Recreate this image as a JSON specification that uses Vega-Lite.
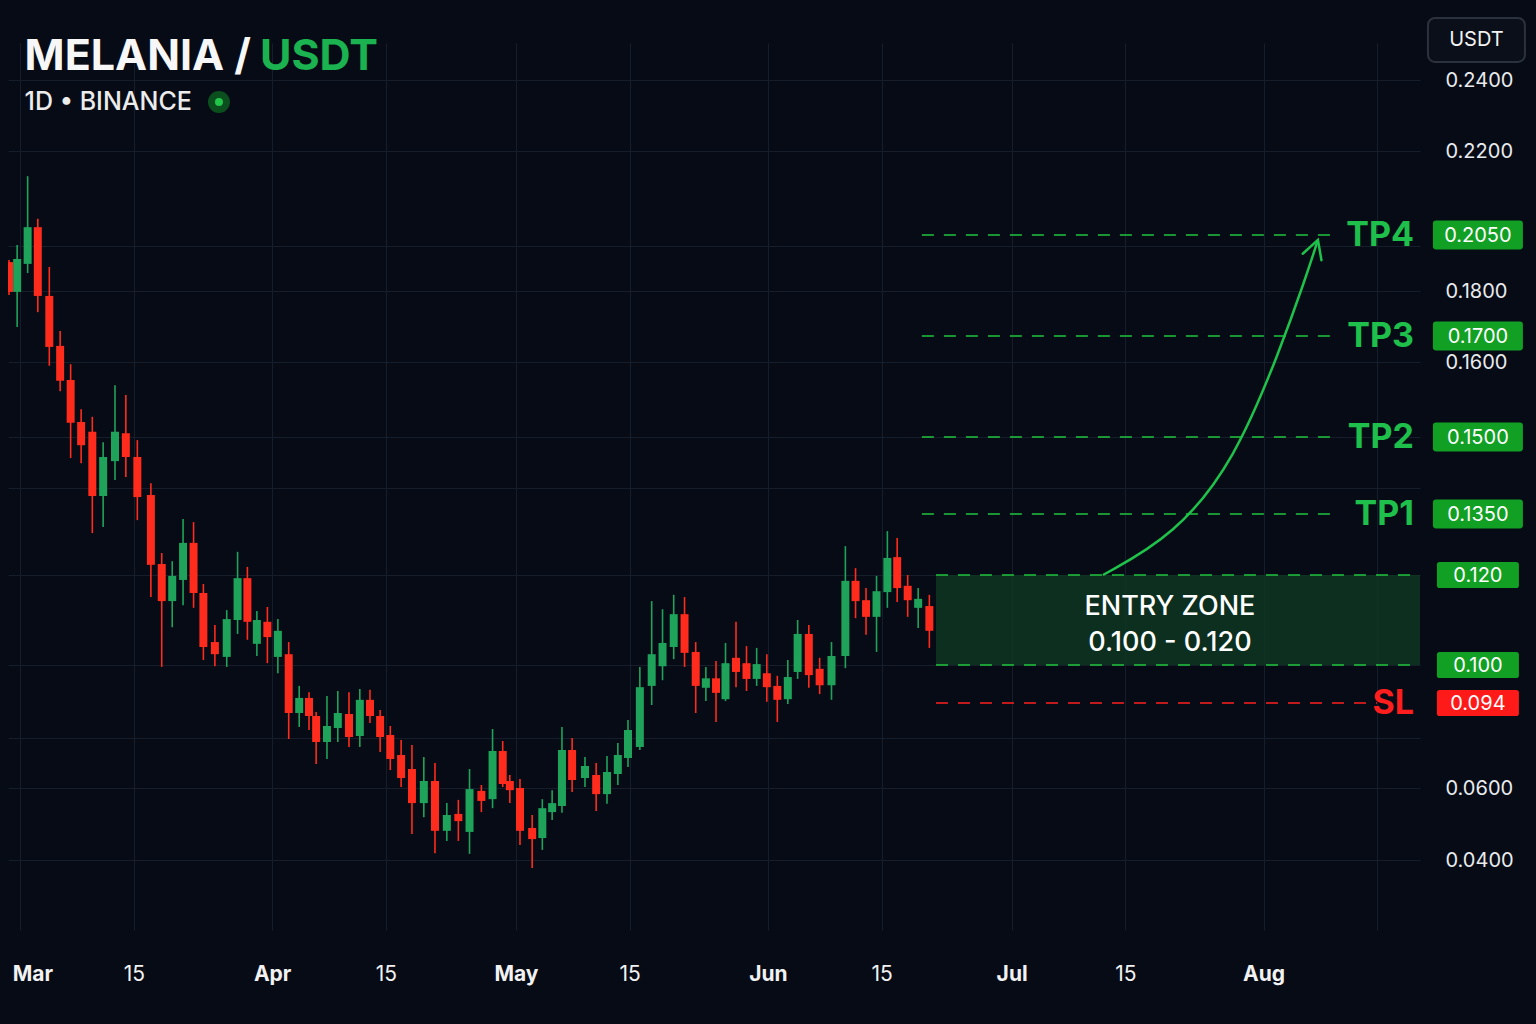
{
  "$schema": "https://vega.github.io/schema/vega-lite/v6.json",
  "width": 1412,
  "height": 939,
  "autosize": "none",
  "padding": {"left": 8, "top": 0, "right": 116, "bottom": 85},
  "background": "#060b16",
  "config": {"view": {"stroke": null}, "font": "Inter", "text": {"font": "Inter"}},
  "data": {"values": [{}]},
  "datasets": {
    "candles": [
      {"t": "2025-02-27T15:00:00Z", "open": 0.1929, "high": 0.1938, "low": 0.1791, "close": 0.1798},
      {"t": "2025-02-28T15:00:00Z", "open": 0.1798, "high": 0.2005, "low": 0.1720, "close": 0.1943},
      {"t": "2025-03-01T22:00:00Z", "open": 0.1921, "high": 0.2155, "low": 0.1880, "close": 0.2064},
      {"t": "2025-03-03T04:00:00Z", "open": 0.2064, "high": 0.2079, "low": 0.1753, "close": 0.1789},
      {"t": "2025-03-04T14:00:00Z", "open": 0.1789, "high": 0.1907, "low": 0.1595, "close": 0.1658},
      {"t": "2025-03-05T22:00:00Z", "open": 0.1662, "high": 0.1711, "low": 0.1561, "close": 0.1575},
      {"t": "2025-03-07T05:00:00Z", "open": 0.1576, "high": 0.1597, "low": 0.1459, "close": 0.1519},
      {"t": "2025-03-08T12:00:00Z", "open": 0.1520, "high": 0.1537, "low": 0.1449, "close": 0.1484},
      {"t": "2025-03-09T21:00:00Z", "open": 0.1507, "high": 0.1527, "low": 0.1303, "close": 0.1385},
      {"t": "2025-03-11T05:00:00Z", "open": 0.1385, "high": 0.1490, "low": 0.1318, "close": 0.1461},
      {"t": "2025-03-12T16:00:00Z", "open": 0.1453, "high": 0.1569, "low": 0.1416, "close": 0.1507},
      {"t": "2025-03-14T00:00:00Z", "open": 0.1505, "high": 0.1556, "low": 0.1422, "close": 0.1461},
      {"t": "2025-03-15T10:00:00Z", "open": 0.1461, "high": 0.1494, "low": 0.1335, "close": 0.1383},
      {"t": "2025-03-17T02:00:00Z", "open": 0.1387, "high": 0.1410, "low": 0.1151, "close": 0.1225},
      {"t": "2025-03-18T10:00:00Z", "open": 0.1227, "high": 0.1254, "low": 0.0997, "close": 0.1142},
      {"t": "2025-03-19T17:00:00Z", "open": 0.1142, "high": 0.1234, "low": 0.1084, "close": 0.1198},
      {"t": "2025-03-21T01:00:00Z", "open": 0.1189, "high": 0.1338, "low": 0.1133, "close": 0.1279},
      {"t": "2025-03-22T08:00:00Z", "open": 0.1279, "high": 0.1330, "low": 0.1127, "close": 0.1160},
      {"t": "2025-03-23T13:00:00Z", "open": 0.1160, "high": 0.1180, "low": 0.1011, "close": 0.1040},
      {"t": "2025-03-24T23:00:00Z", "open": 0.1051, "high": 0.1089, "low": 0.0998, "close": 0.1024},
      {"t": "2025-03-26T10:00:00Z", "open": 0.1018, "high": 0.1122, "low": 0.0997, "close": 0.1102},
      {"t": "2025-03-27T18:00:00Z", "open": 0.1100, "high": 0.1257, "low": 0.1069, "close": 0.1193},
      {"t": "2025-03-28T23:00:00Z", "open": 0.1193, "high": 0.1220, "low": 0.1056, "close": 0.1096},
      {"t": "2025-03-30T03:00:00Z", "open": 0.1047, "high": 0.1120, "low": 0.1020, "close": 0.1100},
      {"t": "2025-03-31T10:00:00Z", "open": 0.1096, "high": 0.1129, "low": 0.1004, "close": 0.1062},
      {"t": "2025-04-01T17:00:00Z", "open": 0.1018, "high": 0.1102, "low": 0.0987, "close": 0.1076},
      {"t": "2025-04-03T01:00:00Z", "open": 0.1024, "high": 0.1051, "low": 0.0796, "close": 0.0900},
      {"t": "2025-04-04T08:00:00Z", "open": 0.0900, "high": 0.0967, "low": 0.0844, "close": 0.0948},
      {"t": "2025-04-05T13:00:00Z", "open": 0.0948, "high": 0.0957, "low": 0.0832, "close": 0.0888},
      {"t": "2025-04-06T10:00:00Z", "open": 0.0888, "high": 0.0904, "low": 0.0696, "close": 0.0784},
      {"t": "2025-04-07T18:00:00Z", "open": 0.0784, "high": 0.0951, "low": 0.0716, "close": 0.0848},
      {"t": "2025-04-09T02:00:00Z", "open": 0.0840, "high": 0.0959, "low": 0.0784, "close": 0.0900},
      {"t": "2025-04-10T11:00:00Z", "open": 0.0896, "high": 0.0957, "low": 0.0764, "close": 0.0804},
      {"t": "2025-04-11T19:00:00Z", "open": 0.0808, "high": 0.0962, "low": 0.0764, "close": 0.0945},
      {"t": "2025-04-13T01:00:00Z", "open": 0.0945, "high": 0.0961, "low": 0.0860, "close": 0.0888},
      {"t": "2025-04-14T07:00:00Z", "open": 0.0888, "high": 0.0912, "low": 0.0744, "close": 0.0804},
      {"t": "2025-04-15T13:00:00Z", "open": 0.0812, "high": 0.0848, "low": 0.0672, "close": 0.0716},
      {"t": "2025-04-16T21:00:00Z", "open": 0.0732, "high": 0.0792, "low": 0.0604, "close": 0.0640},
      {"t": "2025-04-18T05:00:00Z", "open": 0.0676, "high": 0.0772, "low": 0.0472, "close": 0.0558},
      {"t": "2025-04-19T16:00:00Z", "open": 0.0558, "high": 0.0724, "low": 0.0519, "close": 0.0628},
      {"t": "2025-04-21T01:00:00Z", "open": 0.0628, "high": 0.0700, "low": 0.0419, "close": 0.0481},
      {"t": "2025-04-22T12:00:00Z", "open": 0.0481, "high": 0.0558, "low": 0.0453, "close": 0.0525},
      {"t": "2025-04-23T22:00:00Z", "open": 0.0528, "high": 0.0567, "low": 0.0453, "close": 0.0508},
      {"t": "2025-04-25T07:00:00Z", "open": 0.0478, "high": 0.0676, "low": 0.0417, "close": 0.0597},
      {"t": "2025-04-26T18:00:00Z", "open": 0.0592, "high": 0.0612, "low": 0.0533, "close": 0.0564},
      {"t": "2025-04-28T03:00:00Z", "open": 0.0569, "high": 0.0836, "low": 0.0544, "close": 0.0748},
      {"t": "2025-04-29T09:00:00Z", "open": 0.0748, "high": 0.0788, "low": 0.0604, "close": 0.0616},
      {"t": "2025-04-30T06:00:00Z", "open": 0.0628, "high": 0.0652, "low": 0.0558, "close": 0.0594},
      {"t": "2025-05-01T12:00:00Z", "open": 0.0600, "high": 0.0636, "low": 0.0442, "close": 0.0481},
      {"t": "2025-05-03T00:00:00Z", "open": 0.0489, "high": 0.0525, "low": 0.0378, "close": 0.0458},
      {"t": "2025-05-04T06:00:00Z", "open": 0.0461, "high": 0.0569, "low": 0.0428, "close": 0.0544},
      {"t": "2025-05-05T11:00:00Z", "open": 0.0533, "high": 0.0594, "low": 0.0511, "close": 0.0558},
      {"t": "2025-05-06T16:00:00Z", "open": 0.0550, "high": 0.0844, "low": 0.0531, "close": 0.0752},
      {"t": "2025-05-07T22:00:00Z", "open": 0.0752, "high": 0.0800, "low": 0.0589, "close": 0.0632},
      {"t": "2025-05-09T12:00:00Z", "open": 0.0640, "high": 0.0724, "low": 0.0604, "close": 0.0688},
      {"t": "2025-05-10T21:00:00Z", "open": 0.0652, "high": 0.0700, "low": 0.0536, "close": 0.0583},
      {"t": "2025-05-12T05:00:00Z", "open": 0.0583, "high": 0.0728, "low": 0.0556, "close": 0.0664},
      {"t": "2025-05-13T13:00:00Z", "open": 0.0656, "high": 0.0780, "low": 0.0612, "close": 0.0732},
      {"t": "2025-05-14T19:00:00Z", "open": 0.0720, "high": 0.0872, "low": 0.0684, "close": 0.0832},
      {"t": "2025-05-16T06:00:00Z", "open": 0.0764, "high": 0.0997, "low": 0.0752, "close": 0.0965},
      {"t": "2025-05-17T17:00:00Z", "open": 0.0967, "high": 0.1142, "low": 0.0932, "close": 0.1024},
      {"t": "2025-05-19T01:00:00Z", "open": 0.0998, "high": 0.1124, "low": 0.0976, "close": 0.1049},
      {"t": "2025-05-20T10:00:00Z", "open": 0.1040, "high": 0.1156, "low": 0.1013, "close": 0.1113},
      {"t": "2025-05-21T18:00:00Z", "open": 0.1113, "high": 0.1151, "low": 0.0997, "close": 0.1027},
      {"t": "2025-05-23T03:00:00Z", "open": 0.1029, "high": 0.1051, "low": 0.0900, "close": 0.0967},
      {"t": "2025-05-24T09:00:00Z", "open": 0.0964, "high": 0.0997, "low": 0.0943, "close": 0.0979},
      {"t": "2025-05-25T15:00:00Z", "open": 0.0979, "high": 0.1009, "low": 0.0864, "close": 0.0956},
      {"t": "2025-05-26T19:00:00Z", "open": 0.0946, "high": 0.1049, "low": 0.0943, "close": 0.1004},
      {"t": "2025-05-28T02:00:00Z", "open": 0.1016, "high": 0.1096, "low": 0.0965, "close": 0.0989},
      {"t": "2025-05-29T09:00:00Z", "open": 0.1004, "high": 0.1042, "low": 0.0959, "close": 0.0978},
      {"t": "2025-05-30T15:00:00Z", "open": 0.0978, "high": 0.1038, "low": 0.0967, "close": 0.1002},
      {"t": "2025-05-31T21:00:00Z", "open": 0.0987, "high": 0.1024, "low": 0.0942, "close": 0.0965},
      {"t": "2025-06-02T04:00:00Z", "open": 0.0967, "high": 0.0983, "low": 0.0864, "close": 0.0945},
      {"t": "2025-06-03T11:00:00Z", "open": 0.0946, "high": 0.1011, "low": 0.0936, "close": 0.0981},
      {"t": "2025-06-04T16:00:00Z", "open": 0.0989, "high": 0.1100, "low": 0.0978, "close": 0.1069},
      {"t": "2025-06-06T01:00:00Z", "open": 0.1069, "high": 0.1089, "low": 0.0964, "close": 0.0984},
      {"t": "2025-06-07T09:00:00Z", "open": 0.0994, "high": 0.1016, "low": 0.0954, "close": 0.0968},
      {"t": "2025-06-08T20:00:00Z", "open": 0.0968, "high": 0.1051, "low": 0.0945, "close": 0.1020},
      {"t": "2025-06-10T13:00:00Z", "open": 0.1020, "high": 0.1271, "low": 0.0995, "close": 0.1187},
      {"t": "2025-06-11T19:00:00Z", "open": 0.1187, "high": 0.1217, "low": 0.1104, "close": 0.1142},
      {"t": "2025-06-13T02:00:00Z", "open": 0.1144, "high": 0.1171, "low": 0.1067, "close": 0.1107},
      {"t": "2025-06-14T09:00:00Z", "open": 0.1107, "high": 0.1198, "low": 0.1029, "close": 0.1164},
      {"t": "2025-06-15T17:00:00Z", "open": 0.1162, "high": 0.1308, "low": 0.1127, "close": 0.1242},
      {"t": "2025-06-16T22:00:00Z", "open": 0.1244, "high": 0.1291, "low": 0.1140, "close": 0.1171},
      {"t": "2025-06-18T05:00:00Z", "open": 0.1176, "high": 0.1200, "low": 0.1107, "close": 0.1144},
      {"t": "2025-06-19T12:00:00Z", "open": 0.1127, "high": 0.1171, "low": 0.1082, "close": 0.1147},
      {"t": "2025-06-20T21:00:00Z", "open": 0.1131, "high": 0.1156, "low": 0.1038, "close": 0.1076}
    ],
    "levels": [
      {"name": "TP4", "price": 0.205, "label": "0.2050", "kind": "tp"},
      {"name": "TP3", "price": 0.17, "label": "0.1700", "kind": "tp"},
      {"name": "TP2", "price": 0.15, "label": "0.1500", "kind": "tp"},
      {"name": "TP1", "price": 0.135, "label": "0.1350", "kind": "tp"},
      {"name": "Entry high", "price": 0.12, "label": "0.120", "kind": "entry"},
      {"name": "Entry low", "price": 0.10, "label": "0.100", "kind": "entry"},
      {"name": "SL", "price": 0.094, "label": "0.094", "kind": "sl"}
    ],
    "zone": [{"low": 0.10, "high": 0.12}],
    "arrow": [
      {"step": 1, "t": "2025-07-12T05:45:00Z", "price": 0.12},
      {"step": 2, "t": "2025-07-21T02:10:00Z", "price": 0.1298},
      {"step": 3, "t": "2025-07-28T11:30:00Z", "price": 0.1455},
      {"step": 4, "t": "2025-08-03T00:30:00Z", "price": 0.1646},
      {"step": 5, "t": "2025-08-06T02:10:00Z", "price": 0.1849},
      {"step": 6, "t": "2025-08-07T16:36:00Z", "price": 0.2028}
    ]
  },
  "layer": [
    {
      "data": {"name": "candles"},
      "mark": {"type": "rule", "strokeWidth": 1.6, "clip": true},
      "encoding": {
        "x": {
          "field": "t", "type": "temporal", "title": null,
          "scale": {"type": "utc", "padding": 0, "domain": [
            {"year": 2025, "month": 2, "date": 27, "hours": 12, "utc": true},
            {"year": 2025, "month": 8, "date": 20, "hours": 6, "utc": true}
          ]},
          "axis": {
            "orient": "bottom",
            "values": [
              {"year": 2025, "month": 3, "date": 1, "utc": true},
              {"year": 2025, "month": 3, "date": 15, "utc": true},
              {"year": 2025, "month": 4, "date": 1, "utc": true},
              {"year": 2025, "month": 4, "date": 15, "utc": true},
              {"year": 2025, "month": 5, "date": 1, "utc": true},
              {"year": 2025, "month": 5, "date": 15, "utc": true},
              {"year": 2025, "month": 6, "date": 1, "utc": true},
              {"year": 2025, "month": 6, "date": 15, "utc": true},
              {"year": 2025, "month": 7, "date": 1, "utc": true},
              {"year": 2025, "month": 7, "date": 15, "utc": true},
              {"year": 2025, "month": 8, "date": 1, "utc": true},
              {"year": 2025, "month": 8, "date": 15, "utc": true}
            ],
            "labelExpr": "utcdate(datum.value) == 1 ? utcFormat(datum.value, '%b') : (utcmonth(datum.value) == 7 ? '' : '15')",
            "labelFontWeight": {"condition": {"test": "utcdate(datum.value) == 1", "value": "bold"}, "value": "normal"},
            "labelFontSize": 21,
            "labelColor": "#f2f2f2",
            "labelPadding": 24,
            "labelFlush": 20,
            "labelFlushOffset": 8,
            "ticks": false,
            "tickSize": 0,
            "domain": false,
            "grid": true,
            "gridColor": "#171e2b",
            "gridWidth": 1
          }
        },
        "y": {
          "field": "low", "type": "quantitative", "title": null,
          "scale": {
            "domain": [0.03, 0.04, 0.06, 0.094, 0.10, 0.12, 0.135, 0.15, 0.16, 0.17, 0.18, 0.205, 0.22, 0.24, 0.26],
            "range": [896, 860, 788, 703, 665, 575, 514, 437, 362, 336, 291, 235, 151, 80, 9],
            "nice": false, "zero": false
          },
          "axis": {
            "orient": "right",
            "values": [0.02, 0.04, 0.06, 0.08, 0.1, 0.12, 0.14, 0.15, 0.16, 0.18, 0.2, 0.22, 0.24],
            "labelExpr": "indexof([0.04, 0.06, 0.16, 0.18, 0.22, 0.24], datum.value) >= 0 ? format(datum.value, '.4f') : ''",
            "labelFontSize": 20,
            "labelColor": "#e9ebee",
            "labelPadding": 25,
            "ticks": false,
            "tickSize": 0,
            "domain": false,
            "grid": true,
            "gridColor": "#171e2b",
            "gridWidth": 1
          }
        },
        "y2": {"field": "high"},
        "color": {"condition": {"test": "datum.close >= datum.open", "value": "#1fa35a"}, "value": "#ff2b1c"}
      }
    },
    {
      "data": {"name": "candles"},
      "mark": {"type": "bar", "width": 8, "clip": true},
      "encoding": {
        "x": {"field": "t", "type": "temporal", "title": null},
        "y": {"field": "open", "type": "quantitative", "title": null},
        "y2": {"field": "close"},
        "color": {"condition": {"test": "datum.close >= datum.open", "value": "#1fa35a"}, "value": "#ff2b1c"}
      }
    },
    {
      "data": {"name": "zone"},
      "mark": {"type": "rect", "color": "#0f3a22", "opacity": 0.78},
      "encoding": {
        "x": {"datum": {"year": 2025, "month": 6, "date": 21, "hours": 16, "minutes": 30, "utc": true}, "type": "temporal"},
        "x2": {"datum": {"year": 2025, "month": 8, "date": 20, "hours": 6, "utc": true}},
        "y": {"field": "low", "type": "quantitative", "title": null},
        "y2": {"field": "high"}
      }
    },
    {
      "data": {"name": "levels"},
      "transform": [{"filter": "datum.kind == 'entry'"}],
      "mark": {"type": "rule", "color": "#22c43f", "strokeWidth": 1.6, "strokeDash": [12, 10]},
      "encoding": {
        "x": {"datum": {"year": 2025, "month": 6, "date": 21, "hours": 16, "minutes": 30, "utc": true}, "type": "temporal"},
        "x2": {"datum": {"year": 2025, "month": 8, "date": 20, "hours": 6, "utc": true}},
        "y": {"field": "price", "type": "quantitative", "title": null}
      }
    },
    {
      "data": {"name": "levels"},
      "transform": [{"filter": "datum.kind == 'tp'"}],
      "mark": {"type": "rule", "color": "#22c43f", "strokeWidth": 1.6, "strokeDash": [12, 10]},
      "encoding": {
        "x": {"datum": {"year": 2025, "month": 6, "date": 19, "hours": 23, "utc": true}, "type": "temporal"},
        "x2": {"datum": {"year": 2025, "month": 8, "date": 10, "hours": 9, "minutes": 36, "utc": true}},
        "y": {"field": "price", "type": "quantitative", "title": null}
      }
    },
    {
      "data": {"name": "levels"},
      "transform": [{"filter": "datum.kind == 'sl'"}],
      "mark": {"type": "rule", "color": "#ff2020", "strokeWidth": 1.6, "strokeDash": [12, 10]},
      "encoding": {
        "x": {"datum": {"year": 2025, "month": 6, "date": 21, "hours": 16, "minutes": 30, "utc": true}, "type": "temporal"},
        "x2": {"datum": {"year": 2025, "month": 8, "date": 14, "hours": 23, "utc": true}},
        "y": {"field": "price", "type": "quantitative", "title": null}
      }
    },
    {
      "data": {"name": "arrow"},
      "mark": {"type": "line", "color": "#1fc24a", "strokeWidth": 2.5, "interpolate": "basis"},
      "encoding": {
        "x": {"field": "t", "type": "temporal", "title": null},
        "y": {"field": "price", "type": "quantitative", "title": null}
      }
    },
    {
      "data": {"name": "arrow"},
      "transform": [{"filter": "datum.step == 6"}],
      "mark": {"type": "point", "shape": "M-0.55,1L0,0L0.55,1", "filled": false, "color": "#1fc24a", "strokeWidth": 2.5, "strokeCap": "round", "size": 1296, "angle": 19, "opacity": 1},
      "encoding": {
        "x": {"field": "t", "type": "temporal", "title": null},
        "y": {"field": "price", "type": "quantitative", "title": null}
      }
    },
    {
      "data": {"name": "zone"},
      "mark": {"type": "text", "text": ["ENTRY ZONE", "0.100 - 0.120"], "color": "#ffffff", "fontSize": 27, "fontWeight": 500, "lineHeight": 36, "align": "center", "baseline": "middle", "dy": -13},
      "encoding": {
        "x": {"datum": {"year": 2025, "month": 7, "date": 20, "hours": 11, "minutes": 30, "utc": true}, "type": "temporal"},
        "y": {"datum": 0.11, "type": "quantitative"}
      }
    },
    {
      "data": {"name": "levels"},
      "transform": [{"filter": "datum.kind != 'entry'"}],
      "mark": {"type": "text", "align": "right", "baseline": "middle", "dx": -6, "dy": 1, "fontSize": 34, "fontWeight": "bold"},
      "encoding": {
        "x": {"datum": {"year": 2025, "month": 8, "date": 20, "hours": 6, "utc": true}, "type": "temporal"},
        "y": {"field": "price", "type": "quantitative", "title": null},
        "text": {"field": "name"},
        "color": {"condition": {"test": "datum.kind == 'sl'", "value": "#ff1e1e"}, "value": "#1ec04b"}
      }
    },
    {
      "data": {"name": "levels"},
      "mark": {"type": "point", "shape": "M-0.93,-0.32L0.93,-0.32Q1,-0.32 1,-0.25L1,0.25Q1,0.32 0.93,0.32L-0.93,0.32Q-1,0.32 -1,0.25L-1,-0.25Q-1,-0.32 -0.93,-0.32Z", "filled": true, "opacity": 1, "strokeWidth": 0},
      "encoding": {
        "x": {"datum": {"year": 2025, "month": 8, "date": 27, "hours": 9, "utc": true}, "type": "temporal"},
        "y": {"field": "price", "type": "quantitative", "title": null},
        "size": {"condition": {"test": "datum.kind == 'tp'", "value": 8100}, "value": 6724},
        "color": {"condition": {"test": "datum.kind == 'sl'", "value": "#ff1a1a"}, "value": "#12a024"}
      }
    },
    {
      "data": {"name": "levels"},
      "mark": {"type": "text", "align": "center", "baseline": "middle", "color": "#ffffff", "fontSize": 20, "dy": 1},
      "encoding": {
        "x": {"datum": {"year": 2025, "month": 8, "date": 27, "hours": 9, "utc": true}, "type": "temporal"},
        "y": {"field": "price", "type": "quantitative", "title": null},
        "text": {"field": "label"}
      }
    },
    {
      "mark": {"type": "rect", "fill": "#0a0f19", "stroke": "#2c323d", "strokeWidth": 2, "cornerRadius": 7},
      "encoding": {
        "x": {"datum": {"year": 2025, "month": 8, "date": 21, "hours": 5, "minutes": 30, "utc": true}, "type": "temporal"},
        "x2": {"datum": {"year": 2025, "month": 9, "date": 2, "hours": 3, "minutes": 50, "utc": true}},
        "y": {"datum": 0.2451, "type": "quantitative"},
        "y2": {"datum": 0.2575}
      }
    },
    {
      "mark": {"type": "text", "text": "USDT", "align": "center", "baseline": "middle", "color": "#f2f2f2", "fontSize": 20},
      "encoding": {
        "x": {"datum": {"year": 2025, "month": 8, "date": 27, "hours": 4, "minutes": 36, "utc": true}, "type": "temporal"},
        "y": {"datum": 0.2513, "type": "quantitative"}
      }
    },
    {
      "mark": {"type": "text", "text": "MELANIA /", "align": "left", "baseline": "alphabetic", "color": "#f7f7f7", "fontSize": 43, "fontWeight": "bold"},
      "encoding": {
        "x": {"datum": {"year": 2025, "month": 3, "date": 1, "hours": 13, "utc": true}, "type": "temporal"},
        "y": {"datum": 0.2428, "type": "quantitative"}
      }
    },
    {
      "mark": {"type": "text", "text": "USDT", "align": "left", "baseline": "alphabetic", "color": "#1bb350", "fontSize": 43, "fontWeight": "bold"},
      "encoding": {
        "x": {"datum": {"year": 2025, "month": 3, "date": 30, "hours": 12, "utc": true}, "type": "temporal"},
        "y": {"datum": 0.2428, "type": "quantitative"}
      }
    },
    {
      "mark": {"type": "text", "text": "1D • BINANCE", "align": "left", "baseline": "alphabetic", "color": "#ececec", "fontSize": 25, "fontWeight": 500},
      "encoding": {
        "x": {"datum": {"year": 2025, "month": 3, "date": 1, "hours": 13, "utc": true}, "type": "temporal"},
        "y": {"datum": 0.2315, "type": "quantitative"}
      }
    },
    {
      "mark": {"type": "point", "shape": "circle", "filled": true, "color": "#0b4f1e", "size": 484, "opacity": 1},
      "encoding": {
        "x": {"datum": {"year": 2025, "month": 3, "date": 25, "hours": 11, "utc": true}, "type": "temporal"},
        "y": {"datum": 0.2338, "type": "quantitative"}
      }
    },
    {
      "mark": {"type": "point", "shape": "circle", "filled": true, "color": "#22c44a", "size": 64, "opacity": 1},
      "encoding": {
        "x": {"datum": {"year": 2025, "month": 3, "date": 25, "hours": 11, "utc": true}, "type": "temporal"},
        "y": {"datum": 0.2338, "type": "quantitative"}
      }
    }
  ]
}
